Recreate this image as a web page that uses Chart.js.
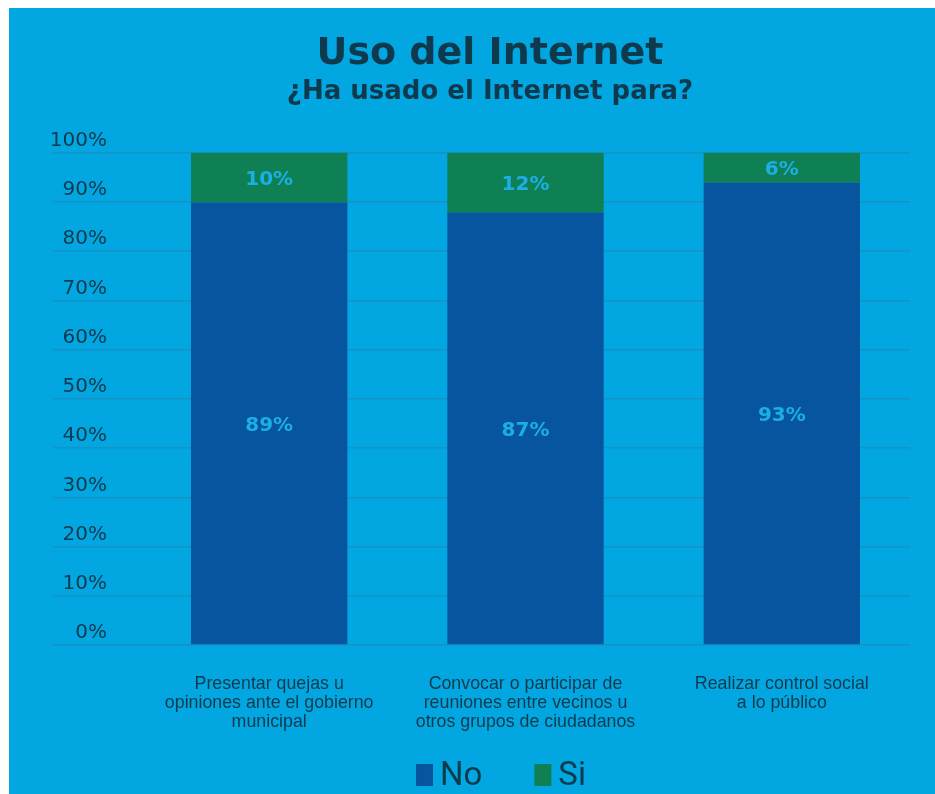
<!DOCTYPE html>
<html>
<head>
<meta charset="utf-8">
<script src="https://cdn.jsdelivr.net/npm/chart.js@4.4.1/dist/chart.umd.min.js"></script>
<style>
  html, body { margin: 0; padding: 0; background: #ffffff; }
  #panel { position: absolute; left: 9px; top: 8px; width: 926px; height: 786px; background: #02a7e2; }
  #wrap { position: absolute; left: 36px; top: 0; width: 890px; height: 786px; }
</style>
</head>
<body>
<div id="panel"><div id="wrap"><canvas id="usoChart"></canvas></div></div>
<script>
// --- Uso del Internet: barras apiladas al 100% ---

const categories = [
    ['Presentar quejas u', 'opiniones ante el gobierno', 'municipal'],
    ['Convocar o participar de', 'reuniones entre vecinos u', 'otros grupos de ciudadanos'],
    ['Realizar control social', 'a lo público']
];
const noValues = [89, 87, 93];
const siValues = [10, 12, 6];
const yTicks = [0, 10, 20, 30, 40, 50, 60, 70, 80, 90, 100];

const darkText = '#0f3a4d';

// cada barra se muestra como parte del total (No + Si = 100%)
const share = (v, i) => v / (noValues[i] + siValues[i]) * 100;

const barLabels = {
    id: 'barLabels',
    afterDatasetsDraw(chart) {
        const ctx = chart.ctx;
        const raw = [noValues, siValues];
        ctx.save();
        ctx.font = 'bold 20px "DejaVu Sans"';
        ctx.fillStyle = '#1caee6';
        ctx.textAlign = 'center';
        ctx.textBaseline = 'middle';
        chart.data.datasets.forEach((ds, d) => {
            chart.getDatasetMeta(d).data.forEach((bar, i) => {
                const mid = (bar.y + bar.base) / 2;
                ctx.fillText(raw[d][i] + '%', bar.x, mid + 2);
            });
        });
        ctx.restore();
    }
};

// titulos centrados como si hubiera el mismo margen a los dos lados
const centerTitles = {
    id: 'centerTitles',
    afterLayout(chart) {
        chart.boxes.filter(b => b.position === 'top').forEach(b => { b.left = 25; });
    }
};

// leyenda propia: cuadro pegado al texto y mas espacio entre items
const bottomLegend = {
    id: 'bottomLegend',
    afterDraw(chart) {
        const ctx = chart.ctx;
        const box = 17, gap = 7, between = 52;
        ctx.save();
        ctx.font = '33px Roboto';
        const items = chart.data.datasets.map(ds => ({
            text: ds.label, color: ds.backgroundColor, w: ctx.measureText(ds.label).width
        }));
        const total = items.reduce((s, it) => s + box + gap + it.w, 0) + between * (items.length - 1);
        let x = chart.width / 2 + 11 - total / 2;
        const baseline = chart.height - 9;
        items.forEach(it => {
            ctx.fillStyle = it.color;
            ctx.fillRect(x, baseline - 21, box, 22);
            x += box + gap;
            ctx.fillStyle = darkText;
            ctx.textBaseline = 'alphabetic';
            ctx.fillText(it.text, x, baseline);
            x += it.w + between;
        });
        ctx.restore();
    }
};

new Chart(document.getElementById('usoChart'), {
    type: 'bar',
    data: {
        labels: categories,
        datasets: [
            {
                label: 'No',
                data: noValues.map(share),
                backgroundColor: '#06559e',
                borderWidth: 0
            },
            {
                label: 'Si',
                data: siValues.map(share),
                backgroundColor: '#0e8054',
                borderWidth: 0
            }
        ]
    },
    options: {
        responsive: true,
        maintainAspectRatio: false,
        animation: false,
        layout: { padding: { left: 0, right: 25, top: 0, bottom: 43 } },
        datasets: {
            bar: { categoryPercentage: 0.61, barPercentage: 1 }
        },
        scales: {
            x: {
                stacked: true,
                afterFit: axis => { axis.height = 106; },
                grid: { display: false },
                border: { display: false },
                ticks: {
                    color: darkText,
                    font: { family: 'Liberation Sans', size: 17.8, lineHeight: '19px' },
                    padding: 22,
                    maxRotation: 0,
                    autoSkip: false
                }
            },
            y: {
                stacked: true,
                min: 0,
                max: 100,
                afterBuildTicks: axis => { axis.ticks = yTicks.map(v => ({ value: v })); },
                afterFit: axis => { axis.width = 96; },
                border: { display: false },
                grid: { color: '#1692c4', lineWidth: 1.5, tickLength: 88, drawTicks: true },
                ticks: {
                    color: darkText,
                    font: { family: 'DejaVu Sans', size: 20 },
                    padding: -54,
                    labelOffset: -12,
                    callback: v => v + '%'
                }
            }
        },
        plugins: {
            title: {
                display: true,
                text: 'Uso del Internet',
                color: darkText,
                font: { family: 'DejaVu Sans', size: 38, weight: 'bold' },
                padding: { top: 23, bottom: 0 }
            },
            subtitle: {
                display: true,
                text: '¿Ha usado el Internet para?',
                color: darkText,
                font: { family: 'DejaVu Sans', size: 26, weight: 'bold' },
                padding: { top: 0, bottom: 45 }
            },
            legend: { display: false },
            tooltip: { enabled: false }
        }
    },
    plugins: [barLabels, centerTitles, bottomLegend]
});
</script>
</body>
</html>
